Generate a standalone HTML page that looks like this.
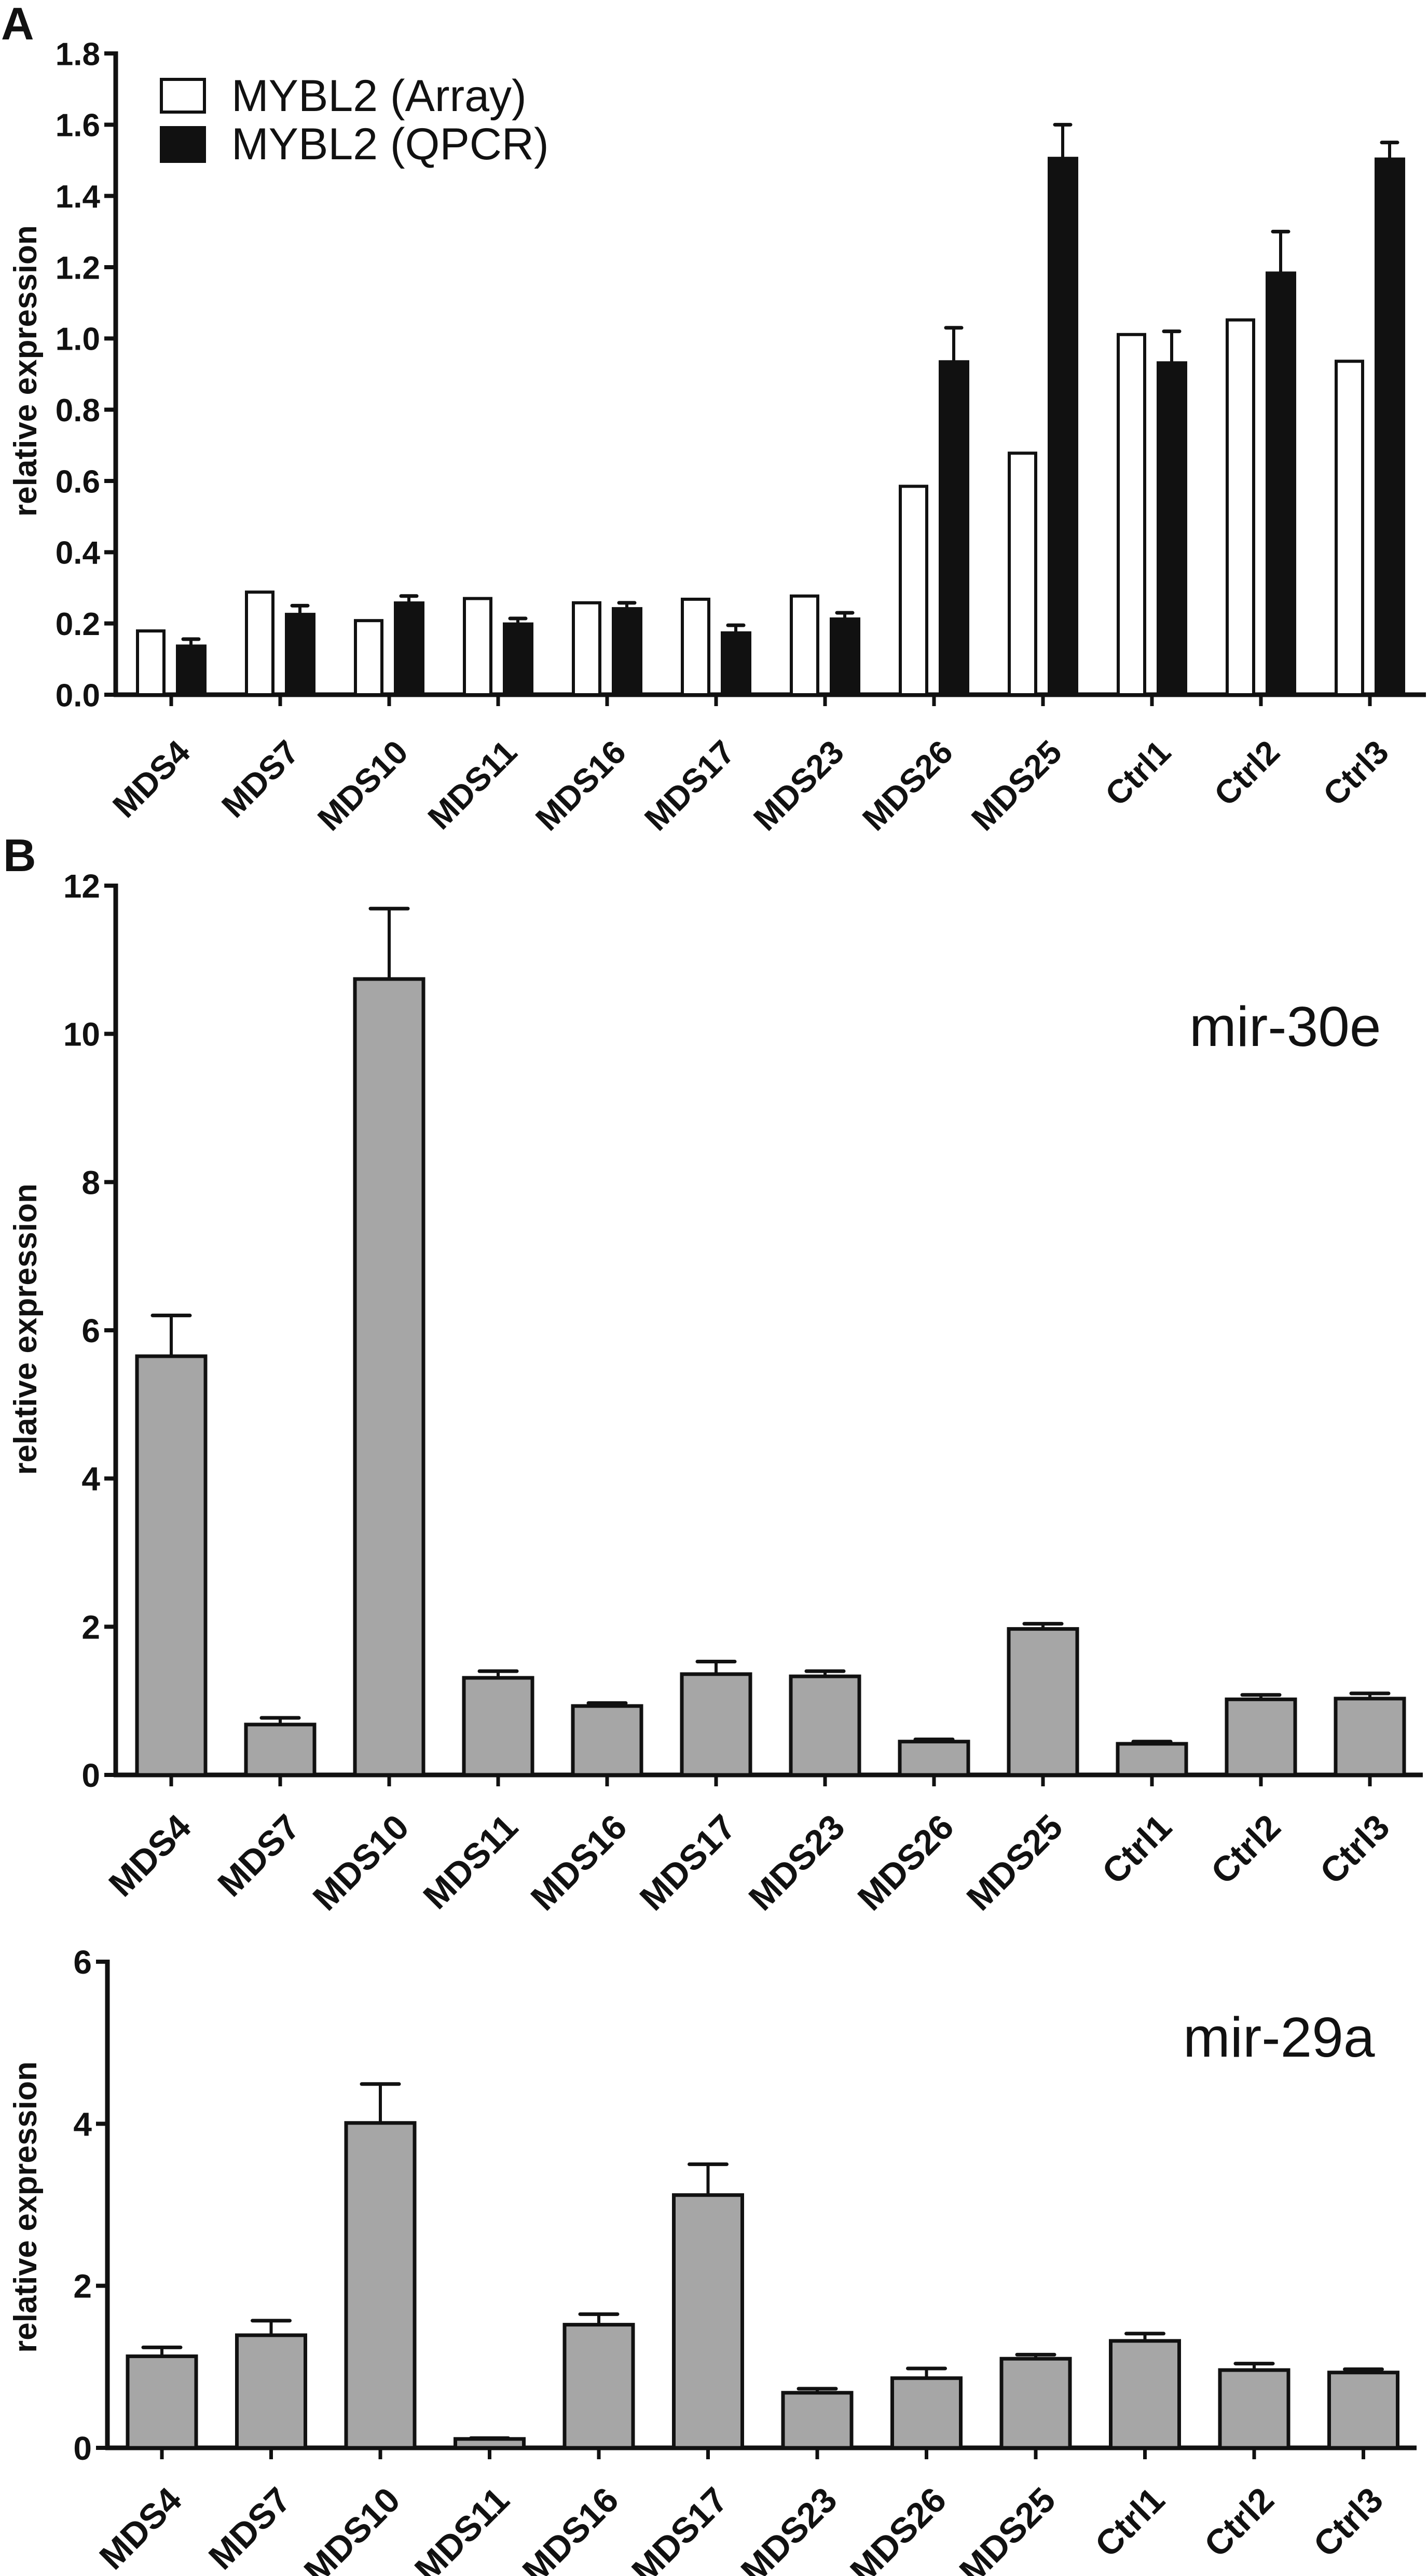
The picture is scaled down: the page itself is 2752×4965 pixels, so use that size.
<!DOCTYPE html>
<html><head><meta charset="utf-8">
<style>
html,body{margin:0;padding:0;background:#fff;}
svg{display:block;}
text{font-family:"Liberation Sans",Arial,sans-serif;fill:#111;}
</style></head>
<body>
<svg id="fig" width="2752" height="4965" viewBox="0 0 2752 4965" xmlns="http://www.w3.org/2000/svg">
<text x="2" y="76" font-size="88" font-weight="bold">A</text>
<text x="6" y="1679" font-size="88" font-weight="bold">B</text>
<g>
<rect x="311" y="153" width="83" height="63" fill="#fff" stroke="#111" stroke-width="6"/>
<text x="446" y="214" font-size="86">MYBL2 (Array)</text>
<rect x="308" y="243" width="89" height="71" fill="#111"/>
<text x="446" y="307" font-size="86">MYBL2 (QPCR)</text>
</g>
<text x="2292" y="2016" font-size="109">mir-30e</text>
<text x="2280" y="3964" font-size="109">mir-29a</text>
</svg>
<script>
const categories = ["MDS4","MDS7","MDS10","MDS11","MDS16","MDS17","MDS23","MDS26","MDS25","Ctrl1","Ctrl2","Ctrl3"];
const arrayValues = [0.179,0.288,0.208,0.270,0.258,0.268,0.277,0.585,0.678,1.011,1.052,0.936];
const qpcrValues = [0.138,0.227,0.259,0.200,0.243,0.175,0.214,0.936,1.507,0.933,1.185,1.505];
const qpcrErrTop = [0.156,0.250,0.277,0.214,0.258,0.195,0.230,1.030,1.600,1.020,1.300,1.550];
const ticksA = ["0.0","0.2","0.4","0.6","0.8","1.0","1.2","1.4","1.6","1.8"];
const mir30eValues = [5.65,0.68,10.74,1.31,0.93,1.36,1.33,0.45,1.97,0.42,1.02,1.03];
const mir30eErrTop = [6.20,0.77,11.69,1.40,0.97,1.53,1.40,0.48,2.04,0.45,1.08,1.10];
const ticksB1 = ["0","2","4","6","8","10","12"];
const mir29aValues = [1.13,1.39,4.01,0.11,1.52,3.12,0.68,0.86,1.10,1.32,0.96,0.93];
const mir29aErrTop = [1.24,1.57,4.49,0.12,1.65,3.50,0.73,0.98,1.15,1.41,1.04,0.97];
const ticksB2 = ["0","2","4","6"];

const NS="http://www.w3.org/2000/svg";
const svg=document.getElementById('fig');
function mk(tag,attrs,parent){const e=document.createElementNS(NS,tag);for(const k in attrs)e.setAttribute(k,attrs[k]);(parent||svg).appendChild(e);return e;}

function axes(cfg){
  const g=mk('g',{});
  
  
  const y=v=>cfg.y0-(v/cfg.ymax)*(cfg.y0-cfg.ytop);
  const x=i=>cfg.x0+cfg.dx*i;
  const ya=mk('line',{x1:cfg.ax,y1:cfg.ytop-4,x2:cfg.ax,y2:cfg.y0+4,stroke:'#111','stroke-width':9},g);
  
  
  cfg.ticks.forEach((t,k)=>{
    const v=cfg.ymax*k/(cfg.ticks.length-1);
    const yy=y(v);
    mk('line',{x1:cfg.ax-22,y1:yy,x2:cfg.ax,y2:yy,stroke:'#111','stroke-width':8},g);
    const tx=mk('text',{x:cfg.ax-30,y:yy+cfg.tfs*0.36,'font-size':cfg.tfs,'font-weight':'bold','text-anchor':'end'},g);
    tx.textContent=t;
    
    
  });
  const xa=mk('line',{x1:cfg.ax-4,y1:cfg.y0,x2:cfg.xend,y2:cfg.y0,stroke:'#111','stroke-width':9},g);
  
  
  categories.forEach((c,i)=>{
    mk('line',{x1:x(i),y1:cfg.y0,x2:x(i),y2:cfg.y0+22,stroke:'#111','stroke-width':7},g);
    const px=x(i)+cfg.lox, py=cfg.y0+cfg.loy;
    const tx=mk('text',{x:px,y:py,'font-size':cfg.lfs,'font-weight':'bold','text-anchor':'end',transform:`rotate(-45 ${px} ${py})`},g);
    tx.textContent=c;
    
    
  });
  const tt=mk('text',{x:cfg.titleX,y:cfg.titleY,'font-size':62,'font-weight':'bold','text-anchor':'middle',transform:`rotate(-90 ${cfg.titleX} ${cfg.titleY})`},g);
  tt.textContent='relative expression';
  
  
  return {x,y};
}

function errbar(g,cx,yTop,yBar,cap,name){
  const l=mk('line',{x1:cx,y1:yTop,x2:cx,y2:yBar,stroke:'#111','stroke-width':6},g);
  
  
  mk('line',{x1:cx-cap/2,y1:yTop,x2:cx+cap/2,y2:yTop,stroke:'#111','stroke-width':7,'stroke-linecap':'round'},g);
}

const A={name:'panel-a',ax:223,ytop:103,y0:1339,ymax:1.8,x0:330,dx:210,xend:2748,ticks:ticksA,tfs:62,lfs:64,lox:40,loy:115,titleX:70,titleY:715};
const sa=axes(A);
const gA=mk('g',{});


categories.forEach((c,i)=>{
  const cx=sa.x(i);
  const ya=sa.y(arrayValues[i]);
  const r=mk('rect',{x:cx-65,y:ya,width:51,height:A.y0-ya,fill:'#fff',stroke:'#111','stroke-width':6},gA);
  
  
  const yq=sa.y(qpcrValues[i]);
  errbar(gA,cx+38,sa.y(qpcrErrTop[i]),yq,30,'error-bar-qpcr');
  const q=mk('rect',{x:cx+9,y:yq-2,width:59,height:A.y0-yq+2,fill:'#111'},gA);
  
  
});

function grayPanel(cfg,vals,errs){
  const s=axes(cfg);
  const g=mk('g',{});
  
  
  categories.forEach((c,i)=>{
    const cx=s.x(i), yv=s.y(vals[i]);
    errbar(g,cx,s.y(errs[i]),yv,72,'error-bar');
    const r=mk('rect',{x:cx-66,y:yv,width:132,height:cfg.y0-yv,fill:'#a6a6a6',stroke:'#111','stroke-width':7},g);
    
    
  });
}
grayPanel({name:'panel-b-mir30e',ax:223,ytop:1707,y0:3421,ymax:12,x0:330,dx:210,xend:2742,ticks:ticksB1,tfs:64,lfs:68,lox:42,loy:105,titleX:70,titleY:2562},mir30eValues,mir30eErrTop);
grayPanel({name:'panel-b-mir29a',ax:207,ytop:3781,y0:4718,ymax:6,x0:312,dx:210.5,xend:2730,ticks:ticksB2,tfs:64,lfs:68,lox:42,loy:105,titleX:70,titleY:4254},mir29aValues,mir29aErrTop);
</script>
</body></html>
